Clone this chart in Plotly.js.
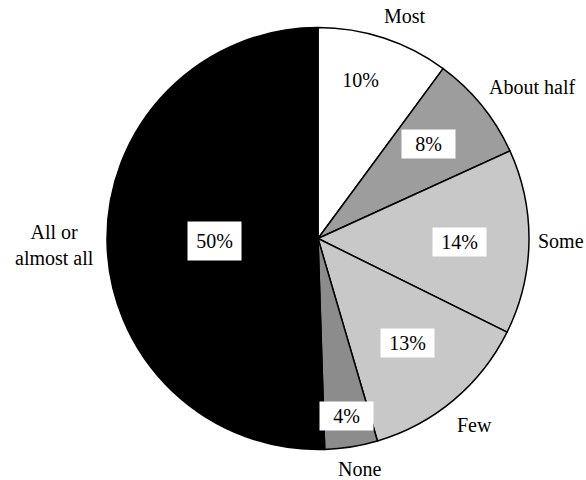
<!DOCTYPE html>
<html>
<head>
<meta charset="utf-8">
<script src="https://cdn.plot.ly/plotly-3.0.1.min.js"></script>
<style>html,body{margin:0;padding:0;background:#fff;}#chart{width:586px;height:480px;}</style>
</head>
<body>
<div id="chart"></div>
<script>
// Data
var categories = ["Most", "About half", "Some", "Few", "None", "All or<br>almost all"];
var values = [10, 8, 14, 13, 4, 50];
var pctLabels = ["10%", "8%", "14%", "13%", "4%", "50%"];
var colors = ["#ffffff", "#9d9d9d", "#c8c8c8", "#c8c8c8", "#8c8c8c", "#000000"];

// Layout helpers (label placement)
var W = 586, H = 480;
var cxPx = 318, cyPx = 238.5, R = 211;
var innerR = [0.78, 0.69, 0.67, 0.65, 0.85, 0.49];
var innerShift = [-3.2, -1.5, 0.7, -0.5, 0.1, -0.3];
var outerR = [1.13, 1.24, 1.15, 1.155, 1.11, 1.25];
var outerShift = [3.1, 3.8, -0.4, 0, -1.2, -0.6];
var boxed = [false, true, true, true, true, true];
var boxH = [28, 28, 28, 28, 28, 38];

var total = values.reduce(function(a, b){ return a + b; }, 0);
var mids = [];
var cum = 0;
values.forEach(function(v){
  mids.push((cum + v / 2) / total * 360);
  cum += v;
});

function pos(angleDeg, rf) {
  var a = angleDeg * Math.PI / 180;
  var px = cxPx + R * rf * Math.sin(a);
  var py = cyPx - R * rf * Math.cos(a);
  return {x: px / W, y: 1 - py / H};
}

var fam = "'Liberation Serif', 'Times New Roman', 'DejaVu Serif', serif";
var annotations = [];
values.forEach(function(v, i){
  var p = pos(mids[i] + innerShift[i], innerR[i]);
  annotations.push({
    xref: "paper", yref: "paper", x: p.x, y: p.y,
    text: pctLabels[i], showarrow: false,
    font: {family: fam, size: 20, color: "#000"},
    bgcolor: boxed[i] ? "#ffffff" : "rgba(0,0,0,0)",
    width: 53, height: boxH[i], borderpad: 0,
    xanchor: "center", yanchor: "middle"
  });
  var q = pos(mids[i] + outerShift[i], outerR[i]);
  annotations.push({
    xref: "paper", yref: "paper", x: q.x, y: q.y,
    text: categories[i], showarrow: false,
    font: {family: fam, size: 20, color: "#000"},
    xanchor: "center", yanchor: "middle"
  });
});

var trace = {
  type: "pie",
  labels: categories,
  values: values,
  sort: false,
  direction: "clockwise",
  rotation: 0,
  textinfo: "none",
  hoverinfo: "label+percent",
  marker: {colors: colors, line: {color: "#000", width: 1.5}},
  domain: {x: [(cxPx - R) / W, (cxPx + R) / W], y: [1 - (cyPx + R) / H, 1 - (cyPx - R) / H]},
  showlegend: false
};

var layout = {
  width: W, height: H,
  margin: {l: 0, r: 0, t: 0, b: 0},
  paper_bgcolor: "#fff",
  plot_bgcolor: "#fff",
  showlegend: false,
  font: {family: fam},
  annotations: annotations
};

Plotly.newPlot("chart", [trace], layout, {displayModeBar: false, staticPlot: true});
</script>
</body>
</html>
